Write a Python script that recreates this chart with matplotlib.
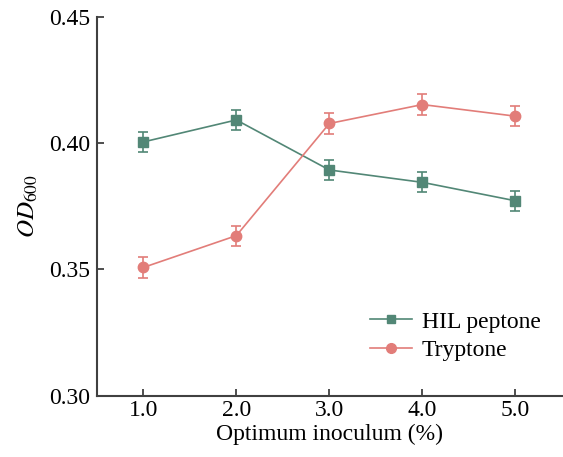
import numpy as np
import matplotlib
matplotlib.use('Agg')
import matplotlib.pyplot as plt
from matplotlib.lines import Line2D

plt.rcParams['font.family'] = ['Liberation Serif', 'DejaVu Serif']
plt.rcParams['mathtext.fontset'] = 'stix'

inoculum = [1.0, 2.0, 3.0, 4.0, 5.0]
hil_peptone = [0.4005, 0.4092, 0.3894, 0.3845, 0.3772]
hil_err = [0.004, 0.004, 0.004, 0.004, 0.004]
tryptone = [0.3508, 0.3634, 0.4078, 0.4153, 0.4107]
tryp_err = [0.004, 0.004, 0.004, 0.004, 0.004]

green = '#528776'
pink = '#e27d79'

fig = plt.figure(figsize=(5.63, 4.57), dpi=100)
ax = fig.add_axes([0.172, 0.134, 0.826, 0.829])

ax.errorbar(inoculum, hil_peptone, yerr=hil_err, color=green, marker='s',
            markersize=7, linewidth=1.2, capsize=3.5, elinewidth=1.2,
            capthick=1.2)
ax.errorbar(inoculum, tryptone, yerr=tryp_err, color=pink, marker='o',
            markersize=7.5, linewidth=1.2, capsize=3.5, elinewidth=1.2,
            capthick=1.2)

ax.set_xlim(0.5, 5.5)
ax.set_ylim(0.30, 0.45)
ax.set_xticks(inoculum)
ax.set_xticklabels(['%.1f' % v for v in inoculum])
ax.set_yticks([0.30, 0.35, 0.40, 0.45])
ax.set_yticklabels(['0.30', '0.35', '0.40', '0.45'])

for s in ['top', 'right']:
    ax.spines[s].set_visible(False)
for s in ['left', 'bottom']:
    ax.spines[s].set_color('#404040')
    ax.spines[s].set_linewidth(1.5)

ax.tick_params(direction='in', length=5, width=1.3, color='#404040',
               labelsize=17, pad=5)
ax.tick_params(axis='x', pad=3)

ax.set_xlabel('Optimum inoculum (%)', fontsize=17, labelpad=2)
ax.set_ylabel(r'$OD_{600}$', fontsize=18, labelpad=6)

handles = [Line2D([], [], color=green, marker='s', markersize=6, linewidth=1.2),
           Line2D([], [], color=pink, marker='o', markersize=7, linewidth=1.2)]
ax.legend(handles, ['HIL peptone', 'Tryptone'], loc='lower right',
          bbox_to_anchor=(1.0, 0.035), frameon=False, fontsize=17,
          handlelength=1.8, handletextpad=0.4, labelspacing=0.3)

fig.savefig('out.png', dpi=100)
